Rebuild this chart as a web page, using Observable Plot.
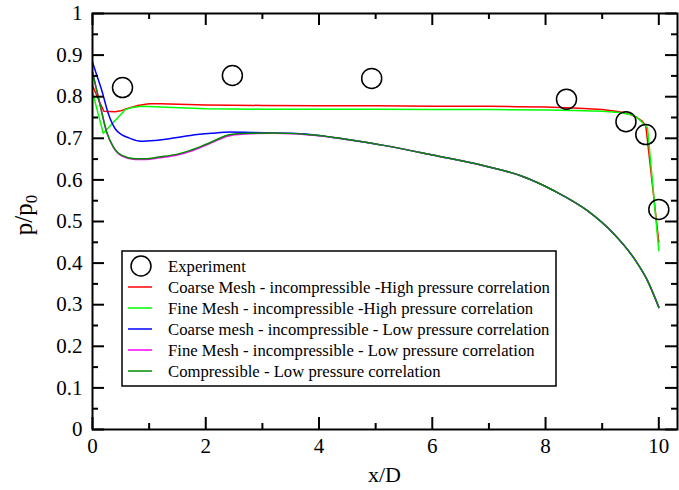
<!DOCTYPE html>
<html><head><meta charset="utf-8">
<script src="https://cdn.jsdelivr.net/npm/d3@7"></script>
<script src="https://cdn.jsdelivr.net/npm/@observablehq/plot@0.6"></script>
<style>body{margin:0;background:#fff} #chart{width:679px;height:490px}</style>
</head><body><div id="chart"></div>
<script>
// ---- tick labels ----
const xTicks = [0, 2, 4, 6, 8, 10];
const xMinorTicks = [1, 3, 5, 7, 9];
const yTicks = [0, 0.1, 0.2, 0.3, 0.4, 0.5, 0.6, 0.7, 0.8, 0.9, 1];
const yMinorTicks = [0.05, 0.15, 0.25, 0.35, 0.45, 0.55, 0.65, 0.75, 0.85, 0.95];

// ---- series names ----
const seriesNames = [
  "Coarse Mesh - incompressible -High pressure correlation",
  "Fine Mesh - incompressible -High pressure correlation",
  "Coarse mesh - incompressible - Low pressure correlation",
  "Fine Mesh - incompressible - Low pressure correlation",
  "Compressible - Low pressure correlation"
];
const seriesColors = ["#ff0000", "#00ff00", "#0000ff", "#ff00ff", "#008b00"];

// ---- experiment ----
const expX = [0.53, 2.47, 4.93, 8.37, 9.42, 9.77, 10.0];
const expY = [0.822, 0.851, 0.844, 0.794, 0.740, 0.709, 0.529];

// ---- Coarse Mesh - incompressible - High pressure ----
const redX = [0, 0.1, 0.2, 0.4, 0.5, 0.6, 0.8, 1.0, 1.2, 2, 3, 4, 5, 6, 7, 7.5, 8, 8.5, 9, 9.3, 9.5, 9.6, 9.7, 9.77, 10];
const redY = [0.827, 0.795, 0.765, 0.764, 0.766, 0.771, 0.779, 0.783, 0.783, 0.780, 0.779, 0.778, 0.778, 0.777, 0.777, 0.776, 0.775, 0.773, 0.769, 0.764, 0.757, 0.751, 0.742, 0.731, 0.45];

// ---- Fine Mesh - incompressible - High pressure ----
const greenX = [0, 0.19, 0.4, 0.58, 0.7, 0.87, 1.2, 2, 3, 4, 5, 6, 7, 8, 8.5, 9, 9.3, 9.5, 9.6, 9.73, 9.8, 10];
const greenY = [0.811, 0.712, 0.743, 0.769, 0.774, 0.777, 0.775, 0.771, 0.770, 0.770, 0.770, 0.769, 0.769, 0.768, 0.767, 0.765, 0.762, 0.757, 0.752, 0.735, 0.726, 0.43];

// ---- Coarse mesh - incompressible - Low pressure ----
const blueX = [0, 0.08, 0.164, 0.28, 0.4, 0.52, 0.64, 0.85, 1.1, 1.4, 1.73, 2.1, 2.44, 2.8, 3.5, 4, 4.5, 5.14, 6.03, 6.91, 7.56, 8.15, 8.74, 9.2, 9.59, 9.8, 10];
const blueY = [0.883, 0.85, 0.815, 0.759, 0.723, 0.708, 0.701, 0.693, 0.695, 0.700, 0.707, 0.712, 0.715, 0.714, 0.712, 0.707, 0.697, 0.683, 0.659, 0.634, 0.610, 0.574, 0.526, 0.471, 0.406, 0.358, 0.293];

// ---- Fine Mesh - incompressible - Low pressure ----
const magentaX = [0, 0.136, 0.25, 0.37, 0.52, 0.75, 0.95, 1.17, 1.5, 1.73, 2.08, 2.44, 2.79, 3.2, 4, 4.5, 5.14, 6.03, 6.91, 7.56, 8.15, 8.74, 9.2, 9.59, 9.8, 10];
const magentaY = [0.859, 0.779, 0.715, 0.678, 0.657, 0.649, 0.649, 0.653, 0.660, 0.669, 0.688, 0.707, 0.711, 0.712, 0.706, 0.697, 0.683, 0.659, 0.634, 0.610, 0.574, 0.526, 0.471, 0.406, 0.358, 0.295];

// ---- Compressible - Low pressure ----
const dkgreenX = [0, 0.136, 0.25, 0.37, 0.52, 0.75, 0.95, 1.17, 1.5, 1.73, 2.08, 2.44, 2.79, 3.2, 4, 4.5, 5.14, 6.03, 6.91, 7.56, 8.15, 8.74, 9.2, 9.59, 9.8, 10];
const dkgreenY = [0.859, 0.779, 0.715, 0.679, 0.659, 0.651, 0.651, 0.655, 0.662, 0.671, 0.690, 0.709, 0.712, 0.713, 0.707, 0.697, 0.683, 0.659, 0.634, 0.610, 0.574, 0.526, 0.471, 0.406, 0.358, 0.294];

const W = 679, H = 490, mL = 92, mR = 2, mT = 13, mB = 61;
const frameW = W - mL - mR, frameH = H - mT - mB;
const font = "Liberation Serif, Times New Roman, serif";
const fmt = d3.format("~g");
const majorLen = 12, minorLen = 6, tickW = 2;

const plot = Plot.plot({
  width: W, height: H,
  marginLeft: mL, marginRight: mR, marginTop: mT, marginBottom: mB,
  style: {fontFamily: font, background: "white", color: "black", overflow: "visible"},
  x: {domain: [0, 10.33]},
  y: {domain: [0, 1]},
  marks: [
    Plot.line(redY, {x: redX, y: redY, stroke: seriesColors[0], strokeWidth: 1.5}),
    Plot.line(greenY, {x: greenX, y: greenY, stroke: seriesColors[1], strokeWidth: 1.5}),
    Plot.line(blueY, {x: blueX, y: blueY, stroke: seriesColors[2], strokeWidth: 1.5, curve: "monotone-x"}),
    Plot.line(magentaY, {x: magentaX, y: magentaY, stroke: seriesColors[3], strokeWidth: 1.5, curve: "monotone-x"}),
    Plot.line(dkgreenY, {x: dkgreenX, y: dkgreenY, stroke: seriesColors[4], strokeWidth: 1.5, curve: "monotone-x"}),
    Plot.dot(expY, {x: expX, y: expY, r: 10, stroke: "black", strokeWidth: 1.5, fill: "none"}),
    // inward ticks on all four sides
    Plot.tickX(xTicks, {x: d => d, insetTop: frameH - majorLen, stroke: "black", strokeWidth: tickW}),
    Plot.tickX(xTicks, {x: d => d, insetBottom: frameH - majorLen, stroke: "black", strokeWidth: tickW}),
    Plot.tickX(xMinorTicks, {x: d => d, insetTop: frameH - minorLen, stroke: "black", strokeWidth: tickW}),
    Plot.tickX(xMinorTicks, {x: d => d, insetBottom: frameH - minorLen, stroke: "black", strokeWidth: tickW}),
    Plot.tickY(yTicks, {y: d => d, insetRight: frameW - majorLen, stroke: "black", strokeWidth: tickW}),
    Plot.tickY(yTicks, {y: d => d, insetLeft: frameW - majorLen, stroke: "black", strokeWidth: tickW}),
    Plot.tickY(yMinorTicks, {y: d => d, insetRight: frameW - minorLen, stroke: "black", strokeWidth: tickW}),
    Plot.tickY(yMinorTicks, {y: d => d, insetLeft: frameW - minorLen, stroke: "black", strokeWidth: tickW}),
    Plot.frame({stroke: "black", strokeWidth: 2}),
    Plot.axisX(xTicks, {tickSize: 0, tickPadding: 9, fontSize: 21, fontFamily: font, tickFormat: fmt, label: null}),
    Plot.axisY(yTicks, {tickSize: 0, tickPadding: 10, fontSize: 21, fontFamily: font, tickFormat: fmt, label: null})
  ]
});

const svg = d3.select(plot);
// axis titles
svg.append("text")
  .attr("x", mL + frameW / 2).attr("y", 482)
  .attr("text-anchor", "middle")
  .attr("font-size", 22).attr("font-family", font).attr("fill", "black")
  .text("x/D");
const yl = svg.append("text")
  .attr("transform", `translate(32,${mT + frameH / 2 - 6}) rotate(-90)`)
  .attr("text-anchor", "middle")
  .attr("font-size", 25).attr("font-family", font).attr("fill", "black");
yl.append("tspan").text("p/p");
yl.append("tspan").attr("dy", "0.3em").attr("font-size", 17).text("0");

// legend box inside the plot
const lg = svg.append("g");
const lgX = 122, lgY = 251, lgW = 434, lgH = 135, rowH = 21;
lg.append("rect").attr("x", lgX).attr("y", lgY).attr("width", lgW).attr("height", lgH)
  .attr("fill", "white").attr("stroke", "black").attr("stroke-width", 1.5);
const rows = ["Experiment"].concat(seriesNames);
rows.forEach((name, i) => {
  const cy = lgY + 15 + i * rowH;
  if (i === 0) {
    lg.append("circle").attr("cx", lgX + 19).attr("cy", cy).attr("r", 10)
      .attr("fill", "none").attr("stroke", "black").attr("stroke-width", 1.5);
  } else {
    lg.append("line").attr("x1", lgX + 6).attr("x2", lgX + 30).attr("y1", cy).attr("y2", cy)
      .attr("stroke", seriesColors[i - 1]).attr("stroke-width", 1.5);
  }
  lg.append("text").attr("x", lgX + 46).attr("y", cy + 6)
    .attr("text-anchor", "start")
    .attr("font-size", 16.7).attr("font-family", font).attr("fill", "black")
    .text(name);
});

document.getElementById("chart").appendChild(plot);
</script>
</body></html>
